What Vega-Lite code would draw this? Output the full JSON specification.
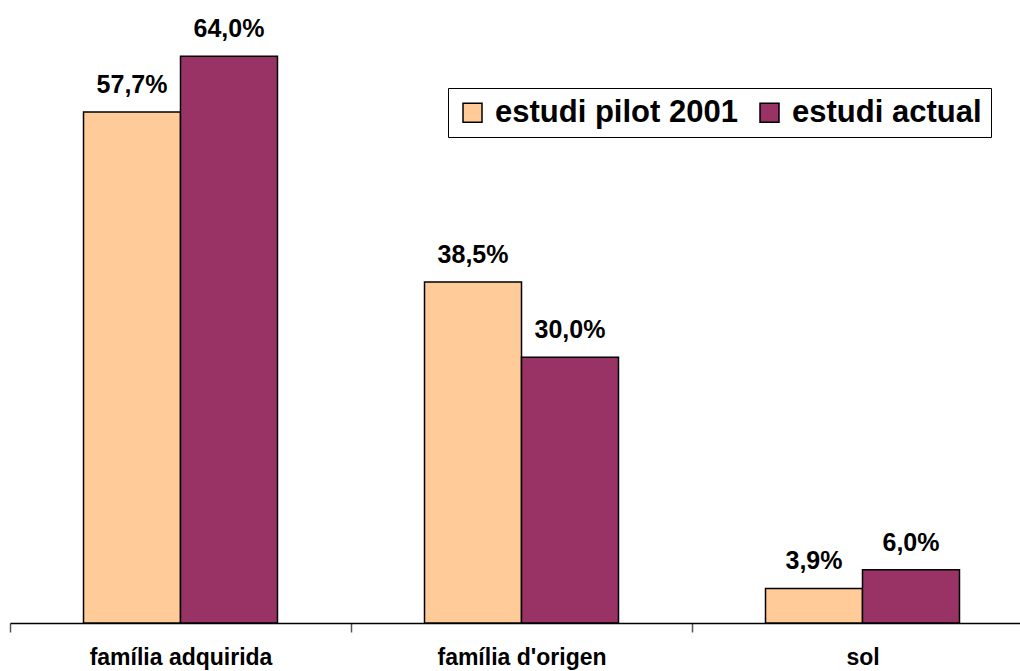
{
  "$schema": "https://vega.github.io/schema/vega-lite/v6.json",
  "width": 1010,
  "height": 620,
  "autosize": {"type": "none"},
  "padding": {"left": 10, "top": 3, "right": 0, "bottom": 48},
  "background": "white",
  "config": {
    "view": {"stroke": null},
    "font": "Liberation Sans",
    "locale": {"number": {"decimal": ",", "thousands": ".", "grouping": [3], "currency": ["", " €"]}}
  },
  "data": {
    "values": [
      {"categoria": "família adquirida", "estudi": "estudi pilot 2001", "valor": 0.577},
      {"categoria": "família adquirida", "estudi": "estudi actual", "valor": 0.640},
      {"categoria": "família d'origen", "estudi": "estudi pilot 2001", "valor": 0.385},
      {"categoria": "família d'origen", "estudi": "estudi actual", "valor": 0.300},
      {"categoria": "sol", "estudi": "estudi pilot 2001", "valor": 0.039},
      {"categoria": "sol", "estudi": "estudi actual", "valor": 0.060}
    ]
  },
  "encoding": {
    "x": {
      "field": "categoria",
      "type": "nominal",
      "sort": null,
      "scale": {"range": [0, 1023], "paddingInner": 0, "paddingOuter": 0},
      "axis": {
        "title": null,
        "labelAngle": 0,
        "labelFontSize": 23,
        "labelFontWeight": "bold",
        "labelColor": "black",
        "labelPadding": 14,
        "labelLimit": 320,
        "domainColor": "black",
        "domainWidth": 1.5,
        "tickColor": "#555555",
        "tickWidth": 1.5,
        "tickSize": 9,
        "tickBand": "extent",
        "labelFont": "Liberation Sans"
      }
    },
    "xOffset": {
      "field": "estudi",
      "type": "nominal",
      "sort": ["estudi pilot 2001", "estudi actual"],
      "scale": {"paddingInner": 0, "paddingOuter": 0.758}
    },
    "y": {
      "field": "valor",
      "type": "quantitative",
      "scale": {"domain": [0, 0.7], "nice": false},
      "axis": null
    }
  },
  "layer": [
    {
      "mark": {"type": "bar", "stroke": "black", "strokeWidth": 1.5},
      "encoding": {
        "color": {
          "field": "estudi",
          "type": "nominal",
          "scale": {"domain": ["estudi pilot 2001", "estudi actual"], "range": ["#FFCC99", "#993366"]},
          "legend": {
            "title": null,
            "orient": "none",
            "legendX": 438,
            "legendY": 85,
            "direction": "horizontal",
            "fillColor": "white",
            "strokeColor": "black",
            "padding": 9,
            "symbolType": "square",
            "symbolSize": 361,
            "symbolStrokeColor": "black",
            "symbolStrokeWidth": 1.5,
            "symbolOpacity": 1,
            "labelFontSize": 31,
            "labelFontWeight": "bold",
            "labelColor": "black",
            "labelOffset": 7,
            "columnPadding": 16,
            "labelLimit": 400,
            "labelFont": "Liberation Sans"
          }
        }
      }
    },
    {
      "mark": {"type": "text", "dy": -19, "baseline": "alphabetic", "fontSize": 25, "fontWeight": "bold", "color": "black", "font": "Liberation Sans"},
      "encoding": {
        "text": {"field": "valor", "type": "quantitative", "format": ".1%"}
      }
    }
  ]
}
